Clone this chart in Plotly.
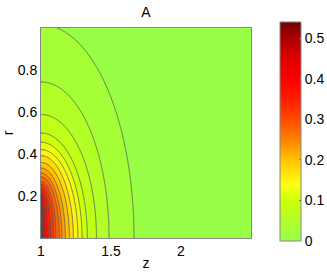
import numpy as np
import plotly.graph_objects as go

# ---- data ----
LEVELS = [0.025, 0.05, 0.075, 0.1, 0.125, 0.15, 0.175, 0.2, 0.225, 0.25, 0.275,
          0.3, 0.325, 0.35, 0.375, 0.4, 0.425, 0.45, 0.475, 0.5, 0.525]
# z where each contour meets the axis r = 0
Z_CROSS = [1.664, 1.486, 1.396, 1.331, 1.293, 1.264, 1.231, 1.203, 1.174, 1.150, 1.131,
           1.107, 1.089, 1.069, 1.050, 1.031, 1.023, 1.016, 1.010, 1.006, 1.002]
# r where each contour meets the edge z = 1
R_CROSS = [1.015, 0.743, 0.588, 0.500, 0.456, 0.421, 0.392, 0.360, 0.333, 0.309, 0.290,
           0.269, 0.254, 0.238, 0.222, 0.206, 0.189, 0.172, 0.153, 0.134, 0.110]
PEAK_VALUE = 0.54
FAR_VALUES = [0.0, 0.008]
FAR_Z = [5.0, 2.4]
FAR_R = [7.0, 3.1]
CORE_Z = 1.0003
CORE_R = 0.06

X_TICKS = [1, 1.5, 2]
Y_TICKS = [0.2, 0.4, 0.6, 0.8]
CB_TICKS = [0, 0.1, 0.2, 0.3, 0.4, 0.5]

CMAP_VALUES = [0.0, 0.05, 0.1, 0.14, 0.2, 0.25, 0.3, 0.35, 0.4, 0.45, 0.5, 0.54]
CMAP_COLORS = [(152, 255, 70), (178, 255, 40), (205, 255, 10), (255, 255, 20),
               (255, 195, 0), (255, 130, 0), (255, 75, 0), (255, 30, 0),
               (250, 0, 0), (225, 0, 0), (170, 0, 0), (115, 0, 0)]

# ---- build the field from the read contour crossings ----
vals = np.array(FAR_VALUES + LEVELS + [PEAK_VALUE])
a = np.array(FAR_Z + Z_CROSS + [CORE_Z]) - 1.0
b = np.array(FAR_R + R_CROSS + [CORE_R])

t = np.linspace(0, 1, 520)
zs = 1 + 1.5 * t ** 2
rs = np.linspace(0, 1, 401)
ZZ, RR = np.meshgrid(zs, rs)
rho = np.sqrt(((ZZ - 1)[None] / a[:, None, None]) ** 2 + (RR[None] / b[:, None, None]) ** 2)
K = len(vals)
k = (rho <= 1).sum(axis=0) - 1
kc = np.clip(k, 0, K - 2)
r0 = np.take_along_axis(rho, kc[None], 0)[0]
r1 = np.take_along_axis(rho, (kc + 1)[None], 0)[0]
frac = np.clip((1 - r0) / np.maximum(r1 - r0, 1e-12), 0, 1)
field = vals[kc] + (vals[kc + 1] - vals[kc]) * frac
field[k < 0] = 0.0
field[k >= K - 1] = PEAK_VALUE


def cmap(v):
    cv = np.array(CMAP_VALUES)
    cc = np.array(CMAP_COLORS, dtype=float)
    return 'rgb(%d,%d,%d)' % tuple(np.interp(v, cv, cc[:, i]) for i in range(3))


n = 60
contour_scale = [[s, cmap(s * LEVELS[-1])] for s in np.linspace(0, 1, n)]
bar_scale = [[s, cmap(s * PEAK_VALUE)] for s in np.linspace(0, 1, n)]

FONT = "Liberation Sans, Arial, sans-serif"
FS = 14

fig = go.Figure()
fig.add_trace(go.Contour(
    x=zs, y=rs, z=field,
    autocontour=False,
    contours=dict(start=LEVELS[0], end=LEVELS[-1], size=LEVELS[1] - LEVELS[0], coloring='fill'),
    line=dict(color='#555555', width=0.8),
    colorscale=contour_scale, showscale=False, hoverinfo='skip'))

fig.add_trace(go.Scatter(
    x=[2.2], y=[0.5], mode='markers', hoverinfo='skip', showlegend=False,
    marker=dict(color=[0.0], cmin=0, cmax=PEAK_VALUE, colorscale=bar_scale, opacity=0,
                showscale=True,
                colorbar=dict(thickness=21, thicknessmode='pixels', len=219, lenmode='pixels',
                              x=1.138, xanchor='left', y=-0.0143, yanchor='bottom',
                              xpad=0, ypad=0, outlinewidth=1, outlinecolor='#888888',
                              tickvals=CB_TICKS, ticktext=[str(v) for v in CB_TICKS],
                              ticks='inside', ticklen=2, tickcolor='#777777',
                              tickfont=dict(family=FONT, size=FS, color='black')))))

fig.update_layout(
    width=327, height=273,
    margin=dict(l=41, r=76, t=28, b=35, autoexpand=False),
    paper_bgcolor='white', plot_bgcolor='white',
    showlegend=False,
    title=dict(text='A', x=0.5, xref='paper', xanchor='center', y=1 - 12 / 273, yanchor='middle',
               font=dict(family=FONT, size=FS, color='black')),
    xaxis=dict(range=[1, 2.5], tickvals=X_TICKS, ticktext=['1', '1.5', '2'],
               showgrid=False, zeroline=False, showline=True, mirror=True,
               linecolor='#888888', linewidth=1, ticks='', automargin=False,
               tickfont=dict(family=FONT, size=FS, color='black'),
               title=dict(text='z', standoff=0, font=dict(family=FONT, size=FS, color='black'))),
    yaxis=dict(range=[0, 1], tickvals=Y_TICKS, ticktext=['0.2', '0.4', '0.6', '0.8'],
               showgrid=False, zeroline=False, showline=True, mirror=True,
               linecolor='#888888', linewidth=1, ticks='', automargin=False,
               tickfont=dict(family=FONT, size=FS, color='black'),
               title=dict(text='r', standoff=2, font=dict(family=FONT, size=FS, color='black'))),
)

fig.write_html("out.html", config={'displayModeBar': False},
               post_script="document.body.style.margin='0';")
